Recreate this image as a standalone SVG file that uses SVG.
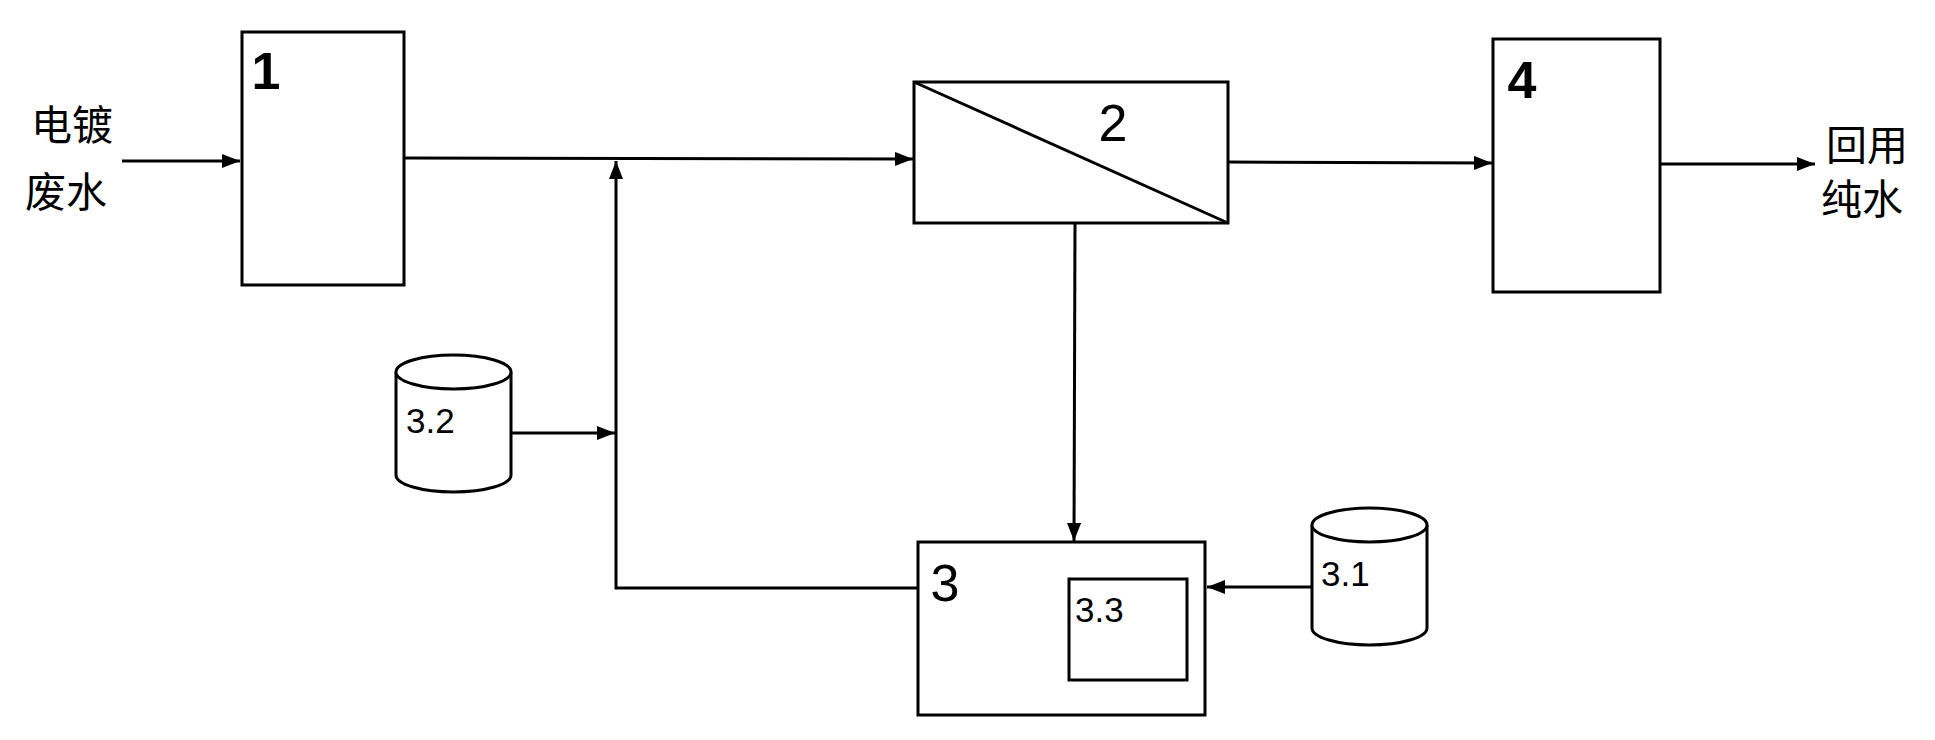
<svg xmlns="http://www.w3.org/2000/svg" width="1935" height="740" viewBox="0 0 1935 740">
<defs>
<style>
.box{fill:#fff;stroke:#000;stroke-width:3}
.ln{fill:none;stroke:#000;stroke-width:3}
.num{font-family:"Liberation Sans",Arial,sans-serif;font-size:52px;fill:#000}
.sub{font-family:"Liberation Sans",Arial,sans-serif;font-size:35px;fill:#000}
.cjk{font-family:"Noto Sans CJK SC","Noto Sans",sans-serif;font-size:41px;fill:#000}
</style>
<marker id="ah" markerUnits="userSpaceOnUse" markerWidth="20" markerHeight="16" refX="18" refY="7" orient="auto">
<path d="M0,0 L18,7 L0,14 z" fill="#000"/>
</marker>
</defs>
<rect width="1935" height="740" fill="#fff"/>
<g id="connectors">
<line class="ln" x1="122" y1="161" x2="240" y2="161" marker-end="url(#ah)"/>
<line class="ln" x1="404" y1="158" x2="913" y2="159" marker-end="url(#ah)"/>
<line class="ln" x1="1228" y1="162" x2="1492" y2="163" marker-end="url(#ah)"/>
<line class="ln" x1="1660" y1="164" x2="1815" y2="164" marker-end="url(#ah)"/>
<line class="ln" x1="1075" y1="223" x2="1074" y2="541" marker-end="url(#ah)"/>
<line class="ln" x1="1312" y1="587" x2="1207" y2="587" marker-end="url(#ah)"/>
<line class="ln" x1="511" y1="433" x2="615" y2="433" marker-end="url(#ah)"/>
<path class="ln" d="M918,588 L616,588 L616,161" marker-end="url(#ah)"/>
</g>
<g id="label-in">
<text class="cjk" x="31" y="140">电镀</text>
<text class="cjk" x="25" y="207">废水</text>
</g>
<g id="label-out">
<text class="cjk" x="1826" y="160">回用</text>
<text class="cjk" x="1821" y="214">纯水</text>
</g>
<g id="node1">
<rect class="box" x="242" y="32" width="162" height="253"/>
<text class="num" x="266" y="89" text-anchor="middle" font-weight="bold">1</text>
</g>
<g id="node2">
<rect class="box" x="914" y="82" width="314" height="141"/>
<line class="ln" x1="914" y1="82" x2="1228" y2="223"/>
<text class="num" x="1113" y="141" text-anchor="middle">2</text>
</g>
<g id="node4">
<rect class="box" x="1493" y="39" width="167" height="253"/>
<text class="num" x="1522" y="98" text-anchor="middle" font-weight="bold">4</text>
</g>
<g id="node3">
<rect class="box" x="918" y="542" width="287" height="173"/>
<text class="num" x="945" y="601" text-anchor="middle">3</text>
<g id="node3-3">
<rect class="box" x="1069" y="579" width="118" height="101"/>
<text class="sub" x="1075" y="622">3.3</text>
</g>
</g>
<g id="node3-2">
<path class="box" d="M396,372 L396,475 A57.5,17 0 0 0 511,475 L511,372"/>
<ellipse class="box" cx="453.5" cy="372" rx="57.5" ry="17"/>
<text class="sub" x="406" y="433">3.2</text>
</g>
<g id="node3-1">
<path class="box" d="M1312,525 L1312,628 A57.5,17 0 0 0 1427,628 L1427,525"/>
<ellipse class="box" cx="1369.5" cy="525" rx="57.5" ry="17"/>
<text class="sub" x="1321" y="586">3.1</text>
</g>
</svg>
